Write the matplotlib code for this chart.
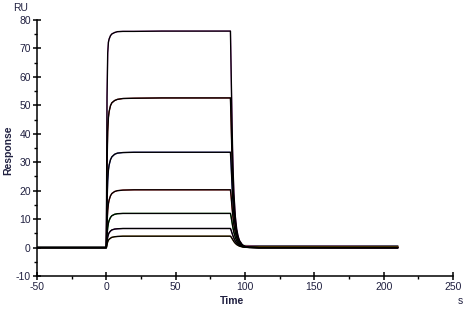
import matplotlib
matplotlib.use("Agg")
import matplotlib.pyplot as plt
from matplotlib.ticker import MultipleLocator

plt.rcParams["font.family"] = "Liberation Sans"
plt.rcParams["axes.unicode_minus"] = False

# shared time grid (s)
t = [-50, 0, 0.5, 1, 1.5, 2, 3, 4, 6, 8, 12, 20, 40, 89.5,
     90, 90.5, 91, 91.5, 92, 93, 94, 95, 96, 98, 100, 103, 110, 210]

# fitted responses (RU), one list per concentration
fit_1 = [0, 0, 53, 68.4, 72.2, 73.3, 74.5, 75.1, 75.6, 75.9, 76.0, 76.0, 76.1, 76.1,
         62, 48, 35, 26, 19, 11, 6.5, 4.0, 2.5, 1.0, 0.4, 0.1, 0, 0]
fit_2 = [0, 0, 28.9, 40.9, 45.7, 47.8, 49.9, 50.9, 51.7, 52.1, 52.4, 52.5, 52.6, 52.6,
         44, 34, 26, 20, 15, 9, 5.5, 3.4, 2.1, 0.9, 0.35, 0.1, 0, 0]
fit_3 = [0, 0, 15.5, 23.5, 27.2, 29.0, 30.9, 31.9, 32.8, 33.2, 33.4, 33.5, 33.5, 33.5,
         29, 23.5, 18.5, 14.5, 11.5, 7.5, 4.7, 3.0, 1.9, 0.8, 0.3, 0.1, 0, 0]
fit_4 = [0, 0, 8.4, 13.0, 15.4, 16.7, 18.2, 19.0, 19.7, 20.0, 20.2, 20.3, 20.3, 20.3,
         18, 15, 12.3, 10, 8, 5.3, 3.5, 2.3, 1.5, 0.65, 0.25, 0.08, 0, 0]
fit_5 = [0, 0, 4.3, 7.0, 8.6, 9.5, 10.6, 11.2, 11.7, 11.9, 12.0, 12.0, 12.0, 12.0,
         10.8, 9.3, 7.8, 6.5, 5.3, 3.6, 2.4, 1.6, 1.05, 0.45, 0.18, 0.05, 0, 0]
fit_6 = [0, 0, 2.2, 3.7, 4.6, 5.2, 5.8, 6.2, 6.5, 6.6, 6.7, 6.7, 6.7, 6.7,
         6.1, 5.3, 4.6, 3.9, 3.3, 2.3, 1.6, 1.1, 0.75, 0.35, 0.14, 0.04, 0, 0]
fit_7 = [0, 0, 1.2, 2.0, 2.6, 2.9, 3.3, 3.6, 3.8, 3.9, 4.0, 4.0, 4.0, 4.0,
         3.7, 3.3, 2.9, 2.5, 2.1, 1.5, 1.05, 0.75, 0.5, 0.24, 0.1, 0.03, 0, 0]
fits = [fit_1, fit_2, fit_3, fit_4, fit_5, fit_6, fit_7]

# measured curves sit under the fits, only their tails show
t_tail = [100, 110, 130, 170, 210]
tail_1 = [0.5, 0.3, 0.2, -0.1, -0.2]
tail_2 = [0.6, 0.5, 0.4, 0.3, 0.3]
tail_3 = [0.5, 0.4, 0.4, 0.35, 0.35]
tail_4 = [0.5, 0.4, 0.45, 0.45, 0.4]
tail_5 = [0.7, 0.6, 0.6, 0.55, 0.6]
tail_6 = [0.6, 0.5, 0.5, 0.5, 0.5]
tail_7 = [0.4, 0.3, 0.3, 0.3, 0.3]
tails = [tail_1, tail_2, tail_3, tail_4, tail_5, tail_6, tail_7]
data_colors = ["#e040e0", "#b00000", "#4040e0", "#ff2020", "#00c000", "#8000a0", "#d09000"]

fig = plt.figure(figsize=(4.65, 3.1), dpi=100)
ax = fig.add_axes([37/465, 34/310, 416/465, 256/310])

for f, tl, c in zip(fits, tails, data_colors):
    ax.plot(t, f, color=c, lw=0.8)
    ax.plot(t_tail, tl, color=c, lw=1.0)
for f in fits:
    ax.plot(t, f, color="black", lw=1.0)

ax.set_xlim(-50, 250)
ax.set_ylim(-10, 80)
ax.xaxis.set_major_locator(MultipleLocator(50))
ax.xaxis.set_minor_locator(MultipleLocator(25))
ax.yaxis.set_major_locator(MultipleLocator(10))
ax.yaxis.set_minor_locator(MultipleLocator(5))
for s in ["top", "right"]:
    ax.spines[s].set_visible(False)
for s in ["left", "bottom"]:
    ax.spines[s].set_linewidth(1.1)
ax.tick_params(which="major", direction="inout", length=6, width=1.1,
               labelsize=7.5, labelcolor="#202040", pad=1.5)
ax.tick_params(which="minor", direction="out", length=2.5, width=1.0)

lab = dict(fontsize=7.5, color="#202040")
fig.text(13/465, 1 - 8/310, "RU", ha="left", va="center", **lab)
fig.text(8/465, 1 - 150/310, "Response", rotation=90, ha="center", va="center",
         fontweight="bold", **lab)
fig.text(232/465, 1 - 301/310, "Time", ha="center", va="center", fontweight="bold", **lab)
fig.text(460/465, 1 - 301/310, "s", ha="center", va="center", **lab)

fig.savefig("out.png", dpi=100)
